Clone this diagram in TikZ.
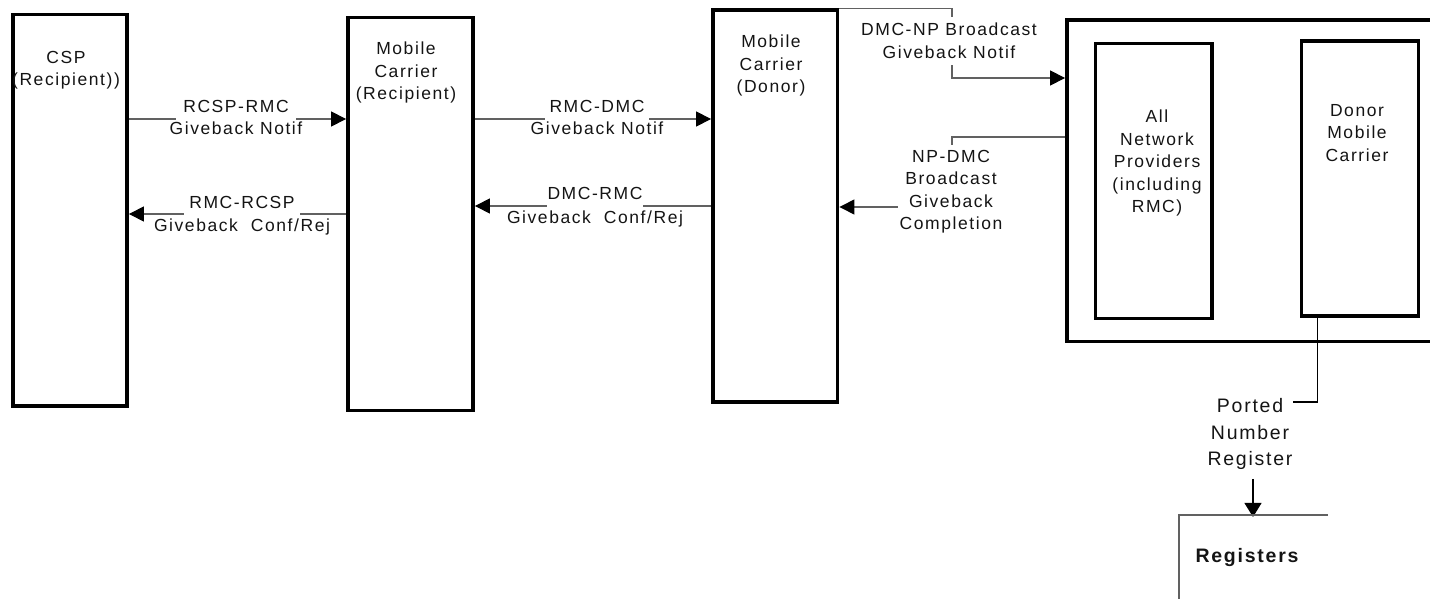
\documentclass[tikz,border=0pt]{standalone}
\usepackage{fontspec}
\setmainfont[LetterSpace=9]{Liberation Sans}
\usetikzlibrary{arrows.meta}
\begin{document}
\begin{tikzpicture}[x=1pt,y=-1pt,
  txt/.style={font=\fontsize{17.5}{22.5}\selectfont, text=black!92, align=center, inner sep=0pt},
  bigtxt/.style={txt, font=\fontsize{19.5}{26.7}\selectfont},
  boldtxt/.style={txt, font=\fontsize{19.5}{25}\selectfont\bfseries},
  mask/.style={txt, fill=white},
  box/.style={draw=black, line width=3.8pt, rectangle, inner sep=0pt},
  wire/.style={draw=black!62, line width=1.1pt},
  arr/.style={wire, -{Triangle[length=15pt,width=15pt,black]}}]
\useasboundingbox (0,0) rectangle (1430,599);

% main participants
\node[box, minimum width=114, minimum height=391.5] (csp) at (70,210.25) {};
\node[box, minimum width=125, minimum height=393] (mcr) at (410.5,214) {};
\node[box, minimum width=124.5, minimum height=392] (donor) at (775.25,206) {};
\node[box, minimum width=378, minimum height=321.5] (outer) at (1256,180.75) {};
\node[box, minimum width=116.5, minimum height=275] (anp) at (1153.75,181) {};
\node[box, minimum width=117, minimum height=275] (dmc) at (1360,178.5) {};

\node[txt, anchor=north] (csptxt) at (66,51) {CSP\\(Recipient))};
\node[txt, anchor=north] (mcrtxt) at (406,42) {Mobile\\Carrier\\(Recipient)};
\node[txt, anchor=north] (donortxt) at (771,35) {Mobile\\Carrier\\(Donor)};
\node[txt, anchor=north] (anptxt) at (1157,110) {All\\Network\\Providers\\(including\\RMC)};
\node[txt, anchor=north] (dmctxt) at (1357,104) {Donor\\Mobile\\Carrier};

% routing points
\coordinate (h1) at (0,119);
\coordinate (h2) at (0,214);
\coordinate (h4) at (0,206);
\coordinate (b1) at (952,78);
\coordinate (np1) at (952,137);
\coordinate (np2) at (952,207);
\coordinate (pnx) at (1317.5,0);
\coordinate (pnend) at (1293,402);
\coordinate (regtl) at (1179,515);
\coordinate (regtr) at (1328,515);
\coordinate (regbl) at (1179,599);

% messages
\draw[arr] (csp.east |- h1) -- (mcr.west |- h1);
\draw[arr] (mcr.west |- h2) -- (csp.east |- h2);
\draw[arr] (mcr.east |- h1) -- (donor.west |- h1);
\draw[arr] (donor.west |- h4) -- (mcr.east |- h4);
\draw[arr] (donor.north east) -| (b1) -- (outer.west |- b1);
\draw[arr] (outer.west |- np1) -- (np1) -- (np2) -- (donor.east |- np2);

% labels
\node[mask, anchor=base, inner xsep=7pt, text depth=8pt] (l1a) at (236,113) {RCSP-RMC};
\node[txt, anchor=base] (l1b) at (236,135) {Giveback Notif};
\node[mask, anchor=base, inner xsep=5pt, text depth=8pt] (l2a) at (242,208) {RMC-RCSP};
\node[txt, anchor=base] (l2b) at (242,231) {Giveback\ \ Conf/Rej};
\node[mask, anchor=base, inner xsep=5pt, text depth=8pt] (l3a) at (597,113) {RMC-DMC};
\node[txt, anchor=base] (l3b) at (597,135) {Giveback Notif};
\node[mask, anchor=base, inner xsep=1pt, text depth=8pt] (l4a) at (595,200) {DMC-RMC};
\node[txt, anchor=base] (l4b) at (595,223) {Giveback\ \ Conf/Rej};
\node[mask, anchor=north, inner ysep=6pt, inner xsep=2pt] (l5) at (949,17) {DMC-NP Broadcast\\Giveback Notif};
\node[mask, anchor=north, inner ysep=5pt, inner xsep=2pt] (l6) at (951,145) {NP-DMC\\Broadcast\\Giveback\\Completion};

% ported number register feed
\node[bigtxt, anchor=north] (pnr) at (1250,398) {Ported\\Number\\Register};
\draw[wire, draw=black] (dmc.south -| pnx) |- (pnend);
\draw[wire, draw=black, -{Triangle[length=14pt,width=17pt,black]}] ([yshift=-9pt]pnr.south -| regtl) ++(74,0) -- ++(0,38);

% registers
\draw[wire] (regtr) -- (regtl) -- (regbl);
\node[boldtxt] (reg) at (1247,557) {Registers};
\end{tikzpicture}
\end{document}
